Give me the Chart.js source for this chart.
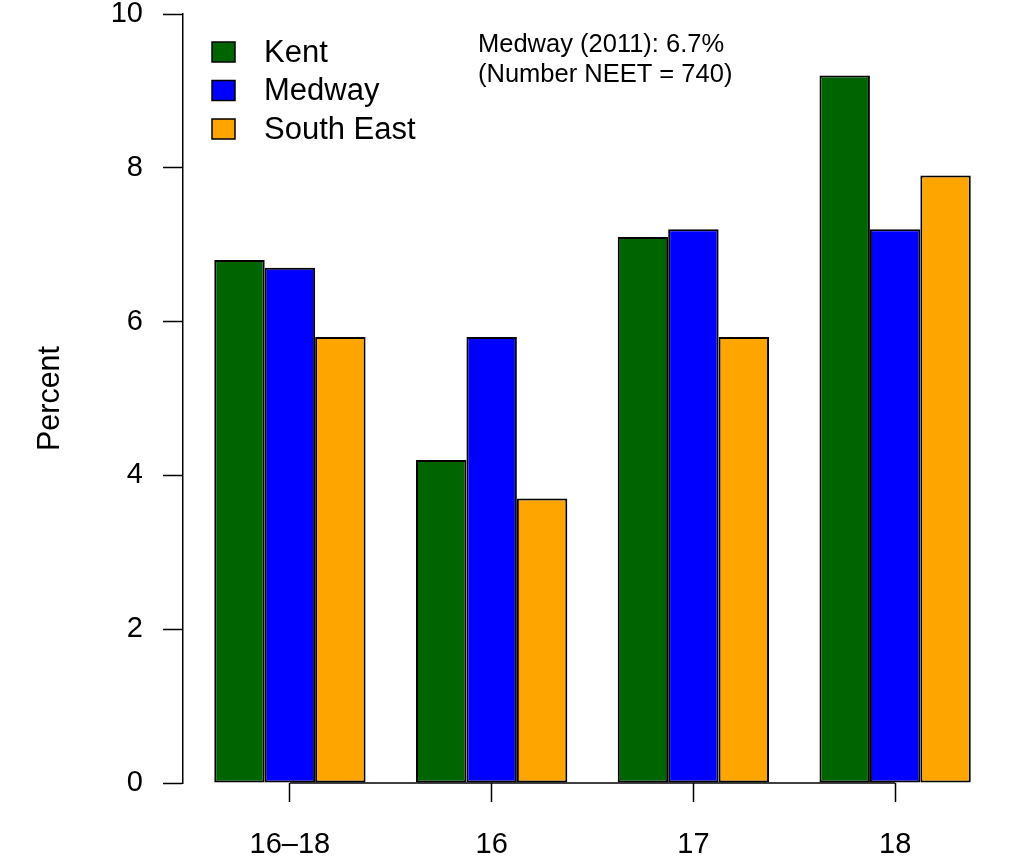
<!DOCTYPE html>
<html>
<head>
<meta charset="utf-8">
<script src="https://cdn.jsdelivr.net/npm/chart.js@4/dist/chart.umd.min.js"></script>
<style>
  html, body { margin: 0; padding: 0; background: #fff; }
  #wrap { width: 1015px; height: 861px; }
</style>
</head>
<body>
<div id="wrap"><canvas id="myChart" width="1015" height="861"></canvas></div>
<script>
const categories = ['16\u201318', '16', '17', '18'];
const kent = [6.8, 4.2, 7.1, 9.2];
const medway = [6.7, 5.8, 7.2, 7.2];
const southEast = [5.8, 3.7, 5.8, 7.9];
const yTicks = [0, 2, 4, 6, 8, 10];
const noteLines = ['Medway (2011): 6.7%', '(Number NEET = 740)'];

const FONT = "'Liberation Sans', Arial, sans-serif";

function toPoints(arr) {
    return arr.map((v, i) => ({ x: i, y: v }));
}

// R style axis line under the bars, from first tick to last tick
const xAxisLine = {
    id: 'xAxisLine',
    afterDatasetsDraw(chart) {
        const ctx = chart.ctx;
        const x = chart.scales.x;
        const y = chart.chartArea.bottom;
        ctx.save();
        ctx.strokeStyle = '#000';
        ctx.lineWidth = 1.5;
        ctx.beginPath();
        ctx.moveTo(x.getPixelForValue(0), y);
        ctx.lineTo(x.getPixelForValue(categories.length - 1), y);
        ctx.stroke();
        ctx.restore();
    }
};

// legend + note text
const extras = {
    id: 'extras',
    afterDraw(chart) {
        const ctx = chart.ctx;
        ctx.save();
        chart.data.datasets.forEach((ds, i) => {
            const cy = 52 + i * 38.5;
            ctx.fillStyle = ds.backgroundColor;
            ctx.fillRect(212, cy - 10, 23, 20);
            ctx.strokeStyle = '#000';
            ctx.lineWidth = 1.5;
            ctx.strokeRect(212, cy - 10, 23, 20);
            ctx.fillStyle = '#000';
            ctx.font = '31px ' + FONT;
            ctx.textBaseline = 'middle';
            ctx.textAlign = 'left';
            ctx.fillText(ds.label, 264, cy + 1);
        });
        ctx.font = '25.5px ' + FONT;
        ctx.fillStyle = '#000';
        ctx.textBaseline = 'middle';
        noteLines.forEach((t, i) => {
            ctx.fillText(t, 478, 45 + i * 30);
        });
        ctx.restore();
    }
};

const ctx = document.getElementById('myChart').getContext('2d');
const myChart = new Chart(ctx, {
    type: 'bar',
    data: {
        datasets: [{
            label: 'Kent',
            data: toPoints(kent),
            backgroundColor: '#006400'
        }, {
            label: 'Medway',
            data: toPoints(medway),
            backgroundColor: '#0000ff'
        }, {
            label: 'South East',
            data: toPoints(southEast),
            backgroundColor: '#ffa500'
        }]
    },
    options: {
        responsive: false,
        animation: false,
        devicePixelRatio: 1,
        layout: {
            padding: { top: 14, right: 19, bottom: 0, left: 0 }
        },
        datasets: {
            bar: {
                categoryPercentage: 0.75,
                barPercentage: 1,
                borderColor: '#000',
                borderWidth: 2,
                borderSkipped: false
            }
        },
        plugins: {
            legend: { display: false },
            tooltip: { enabled: false }
        },
        scales: {
            x: {
                type: 'linear',
                offset: false,
                min: -0.53,
                max: 3.5,
                afterBuildTicks: (scale) => {
                    scale.ticks = categories.map((c, i) => ({ value: i }));
                },
                afterFit: (scale) => {
                    scale.height = 78;
                    scale.paddingLeft = 0;
                    scale.paddingRight = 0;
                },
                border: { display: false },
                grid: {
                    offset: false,
                    drawOnChartArea: false,
                    drawTicks: true,
                    tickLength: 19,
                    tickColor: '#000',
                    tickWidth: 1.5
                },
                ticks: {
                    autoSkip: false,
                    maxRotation: 0,
                    padding: 26,
                    color: '#000',
                    font: { family: FONT, size: 29 },
                    callback: (value) => categories[value]
                }
            },
            y: {
                min: 0,
                max: 10,
                afterBuildTicks: (scale) => {
                    scale.ticks = yTicks.map(v => ({ value: v }));
                },
                afterFit: (scale) => {
                    scale.width = 183;
                    scale.paddingTop = 0;
                    scale.paddingBottom = 0;
                },
                border: { display: true, color: '#000', width: 1.5 },
                grid: {
                    drawOnChartArea: false,
                    drawTicks: true,
                    tickLength: 20,
                    tickColor: '#000',
                    tickWidth: 1.5
                },
                ticks: {
                    padding: 20,
                    color: '#000',
                    font: { family: FONT, size: 29, lineHeight: 0.9 }
                },
                title: {
                    display: true,
                    text: 'Percent',
                    color: '#000',
                    font: { family: FONT, size: 30.5 },
                    padding: { top: 32, bottom: 0 }
                }
            }
        }
    },
    plugins: [xAxisLine, extras]
});
</script>
</body>
</html>
